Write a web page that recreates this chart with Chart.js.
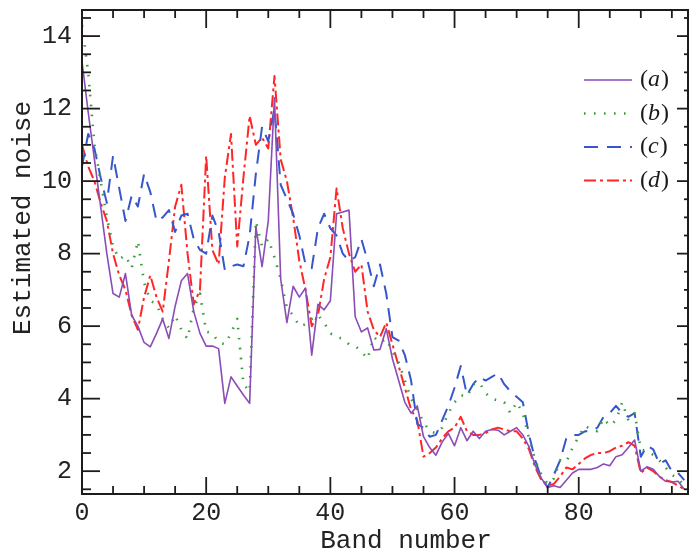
<!DOCTYPE html>
<html><head><meta charset="utf-8">
<script src="https://cdn.jsdelivr.net/npm/chart.js@4/dist/chart.umd.min.js"></script>
<style>html,body{margin:0;padding:0;background:#fff;}canvas{display:block;}</style>
</head><body>
<canvas id="c" width="690" height="549"></canvas>
<script>
const bands = [0,1,2,3,4,5,6,7,8,9,10,11,12,13,14,15,16,17,18,19,20,21,22,23,24,25,26,27,28,29,30,31,32,33,34,35,36,37,38,39,40,41,42,43,44,45,46,47,48,49,50,51,52,53,54,55,56,57,58,59,60,61,62,63,64,65,66,67,68,69,70,71,72,73,74,75,76,77,78,79,80,81,82,83,84,85,86,87,88,89,90,91,92,93,94,95,96,97];
const seriesA = [13.3,11.9,10.6,9.3,8.0,6.9,6.8,7.45,6.3,6.0,5.55,5.43,5.8,6.2,5.66,6.55,7.25,7.45,6.4,5.8,5.45,5.45,5.38,3.87,4.6,4.35,4.1,3.87,8.74,7.64,8.9,12.3,7.3,6.1,7.1,6.8,7.05,5.2,6.6,6.45,6.7,9.1,9.15,9.2,6.26,5.84,5.95,5.34,5.36,5.93,5.1,4.5,3.9,3.6,3.8,2.95,2.65,2.44,2.8,3.04,2.7,3.2,2.84,3.1,2.9,3.1,3.15,3.13,3.0,3.1,3.2,3.0,2.67,2.15,1.8,1.55,1.6,1.55,1.75,1.95,2.05,2.05,2.05,2.1,2.2,2.15,2.4,2.45,2.65,2.86,2.0,2.12,2.05,1.85,1.72,1.7,1.72,1.5];
const seriesB = [14.3,13.0,11.0,10.0,9.0,8.2,7.85,7.95,7.6,8.35,7.2,6.7,6.6,6.2,5.95,6.3,5.9,5.65,6.5,6.9,5.85,5.8,5.55,5.5,5.8,6.2,4.4,4.2,8.9,8.2,8.4,7.9,7.3,6.5,6.3,6.0,6.05,6.2,6.3,6.1,5.8,5.7,5.65,5.5,5.45,5.3,5.1,5.7,5.55,5.65,5.3,5.0,4.5,4.0,3.7,3.35,3.1,3.05,3.2,3.6,3.9,4.1,4.05,4.4,4.45,4.15,4.0,3.95,3.9,3.6,3.9,3.6,2.9,2.3,1.9,1.65,1.8,2.3,2.25,2.65,2.95,3.25,3.15,3.1,3.45,3.25,3.4,3.9,3.4,3.6,2.6,2.55,2.45,2.3,2.1,1.9,1.8,1.6];
const seriesC = [10.4,11.3,10.9,10.1,9.4,10.7,9.8,8.9,9.6,9.3,10.2,9.7,8.9,9.0,9.2,8.6,9.05,9.1,8.4,8.1,8.0,9.05,8.6,7.55,7.65,7.7,7.65,8.5,10.2,11.5,11.1,12.0,9.9,9.5,9.1,8.5,7.7,7.6,8.7,9.1,8.7,8.5,8.0,7.8,7.9,8.4,7.8,7.1,7.7,6.9,5.7,5.6,5.2,4.5,3.3,3.2,2.95,3.0,3.4,3.8,4.3,4.9,4.1,4.4,4.6,4.5,4.6,4.7,4.4,4.2,4.05,3.9,3.0,2.3,1.8,1.55,1.9,2.3,2.9,3.0,3.0,3.1,3.1,3.2,3.5,3.6,3.8,3.6,3.5,3.6,2.4,2.7,2.6,2.2,2.3,2.0,1.95,1.75];
const seriesD = [11.0,10.4,10.0,9.4,8.9,8.0,7.4,7.0,6.3,5.9,6.8,7.4,6.8,6.4,7.8,9.3,9.9,8.0,6.6,7.0,10.7,8.1,7.7,10.1,11.3,8.2,10.1,11.8,11.0,11.2,10.9,12.9,10.6,10.0,9.0,7.8,7.0,6.0,6.3,7.3,7.9,9.8,8.7,8.0,7.5,7.7,6.4,5.9,5.7,6.1,5.5,4.9,4.3,3.7,3.4,2.4,2.5,2.65,2.9,3.1,3.2,3.5,3.1,3.0,3.0,3.05,3.15,3.2,3.15,3.1,3.1,2.9,2.6,2.1,1.75,1.6,1.65,1.85,2.1,2.05,2.2,2.35,2.45,2.5,2.5,2.55,2.65,2.7,2.8,2.7,1.95,2.1,2.0,1.85,1.75,1.7,1.6,1.5];
const seriesLabels = ['(a)','(b)','(c)','(d)'];
const xTickValues = [0,20,40,60,80];
const yTickValues = [2,4,6,8,10,12,14];
const xAxisTitle = 'Band number';
const yAxisTitle = 'Estimated noise';

const MONO = '"Liberation Mono", "Courier New", monospace';
const SERIF = '"Liberation Serif", "Times New Roman", serif';
const styles = [
  {color:'#8a4cb6', width:1.6, dash:[]},
  {color:'#3c9c3c', width:2.6, dash:[1.6,8.4]},
  {color:'#3556cc', width:2, dash:[14,9]},
  {color:'#ff2626', width:2, dash:[12,4,3,4]}
];
const seriesValues = [seriesA, seriesB, seriesC, seriesD];
const datasets = seriesValues.map((vals,k)=>({
  label: seriesLabels[k],
  data: vals.map((v,i)=>({x:bands[i], y:v})),
  borderColor: styles[k].color,
  backgroundColor: styles[k].color,
  borderWidth: styles[k].width,
  borderDash: styles[k].dash,
  borderCapStyle: 'butt',
  borderJoinStyle: 'round',
  pointRadius: 0, pointHoverRadius: 0,
  fill: false, tension: 0
}));

function seg(ctx,x1,y1,x2,y2){ctx.beginPath();ctx.moveTo(x1,y1);ctx.lineTo(x2,y2);ctx.stroke();}

const decor = {
  id: 'decor',
  afterDatasetsDraw(chart){
    const {ctx, chartArea:a, scales:{x, y}} = chart;
    ctx.save();
    ctx.strokeStyle = '#1c1c1c';
    ctx.lineWidth = 2;
    ctx.strokeRect(a.left, a.top, a.right - a.left, a.bottom - a.top);
    ctx.lineWidth = 1.8;
    for (let v = Math.ceil(y.min*2)/2; v <= y.max + 1e-9; v += 0.5) {
      const p = y.getPixelForValue(v);
      const major = yTickValues.indexOf(v) >= 0;
      seg(ctx, a.left, p, a.left + (major ? 18 : 9), p);
      seg(ctx, a.right, p, a.right - (major ? 11 : 4), p);
    }
    for (let v = 5; v < x.max; v += 5) {
      const p = x.getPixelForValue(v);
      const major = xTickValues.indexOf(v) >= 0;
      seg(ctx, p, a.bottom, p, a.bottom - (major ? 17 : 8));
      seg(ctx, p, a.top, p, a.top + (major ? 18 : 8));
    }
    const lx1 = 584, lx2 = 632, ly0 = 80, dy = 33.5;
    chart.data.datasets.forEach((ds, k) => {
      const yy = ly0 + k*dy;
      ctx.save();
      ctx.strokeStyle = ds.borderColor;
      ctx.lineWidth = ds.borderWidth;
      ctx.setLineDash(ds.borderDash || []);
      seg(ctx, lx1, yy, lx2, yy);
      ctx.restore();
      const lab = ds.label;
      const open = lab.slice(0,1), mid = lab.slice(1, lab.length-1), close = lab.slice(-1);
      ctx.fillStyle = '#1a1a1a';
      ctx.textBaseline = 'middle';
      ctx.textAlign = 'left';
      let tx = 640;
      ctx.font = '24px ' + SERIF;
      ctx.fillText(open, tx, yy);
      tx += ctx.measureText(open).width;
      ctx.font = 'italic 24px ' + SERIF;
      ctx.fillText(mid, tx, yy);
      tx += ctx.measureText(mid).width + 1;
      ctx.font = '24px ' + SERIF;
      ctx.fillText(close, tx, yy);
    });
    ctx.fillStyle = '#222';
    ctx.font = '26px ' + MONO;
    ctx.textAlign = 'center';
    ctx.textBaseline = 'alphabetic';
    ctx.fillText(xAxisTitle, 406, 548);
    ctx.save();
    ctx.translate(30, 218);
    ctx.rotate(-Math.PI/2);
    ctx.fillText(yAxisTitle, 0, 0);
    ctx.restore();
    ctx.restore();
  }
};

new Chart(document.getElementById('c'), {
  type: 'line',
  data: { datasets },
  options: {
    responsive: false,
    animation: false,
    devicePixelRatio: 1,
    layout: { padding: { top: 10, right: 2, left: 0, bottom: 0 } },
    plugins: { legend: { display: false }, tooltip: { enabled: false } },
    scales: {
      x: {
        type: 'linear', min: 0, max: 97.6,
        grid: { display: false, drawTicks: false },
        border: { display: false },
        afterBuildTicks: s => { s.ticks = xTickValues.map(v => ({value: v})); },
        afterFit: s => { s.height = 55; s.paddingLeft = 0; s.paddingRight = 0; },
        ticks: { font: { family: MONO, size: 25 }, color: '#222', padding: 4, maxRotation: 0, autoSkip: false }
      },
      y: {
        type: 'linear', min: 1.37, max: 14.72,
        grid: { display: false, drawTicks: false },
        border: { display: false },
        afterBuildTicks: s => { s.ticks = yTickValues.map(v => ({value: v})); },
        afterFit: s => { s.width = 82; s.paddingTop = 0; s.paddingBottom = 0; },
        ticks: { font: { family: MONO, size: 25 }, color: '#222', padding: 10, autoSkip: false }
      }
    }
  },
  plugins: [decor]
});
</script>
</body></html>
